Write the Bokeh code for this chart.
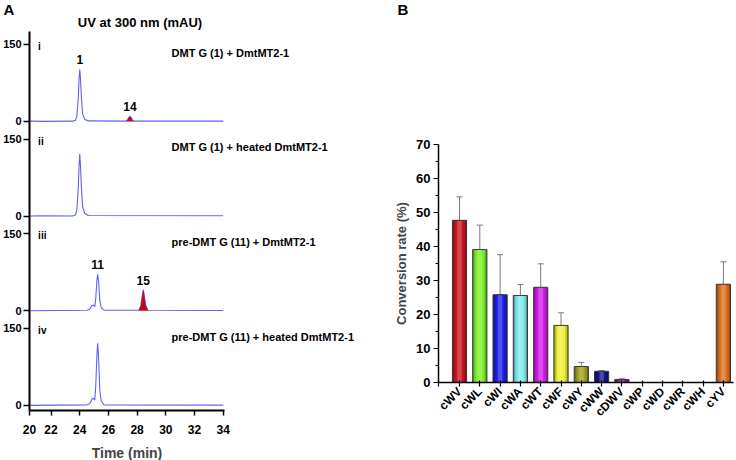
import numpy as np
from bokeh.plotting import figure
from bokeh.layouts import row
from bokeh.models import FixedTicker, Whisker, ColumnDataSource, Range1d, TeeHead
from bokeh.core.properties import value
from bokeh.embed import file_html
from bokeh.resources import INLINE

FONT = "Liberation Sans"

# ---------------- Panel A data (HPLC traces, UV 300 nm, mAU) ----------------
panel_names = ["i", "ii", "iii", "iv"]
panel_titles = ["DMT G (1) + DmtMT2-1",
                "DMT G (1) + heated DmtMT2-1",
                "pre-DMT G (11) + DmtMT2-1",
                "pre-DMT G (11) + heated DmtMT2-1"]

time_i = [20.5, 21.5, 23.5, 23.7, 23.8, 23.9, 23.95, 24.0, 24.05, 24.12, 24.2, 24.35, 24.6,
          27.2, 27.33, 27.43, 27.5, 27.57, 27.67, 27.8, 34.0]
mau_i = [0.5, 0, 0.5, 2, 10, 45, 80, 101, 85, 45, 15, 4, 1,
         0.5, 3, 8, 10, 8, 3, 0.5, 0.5]

time_ii = [20.5, 21.5, 23.5, 23.7, 23.8, 23.9, 23.95, 24.0, 24.05, 24.12, 24.2, 24.35, 24.6, 34.0]
mau_ii = [0, 0.5, 0, 2, 12, 55, 95, 121, 100, 55, 18, 5, 1, 0.5]

time_iii = [20.5, 22.5, 24.5, 24.7, 24.85, 24.95, 25.05, 25.12, 25.2, 25.25, 25.32, 25.4, 25.5, 25.7,
            28.12, 28.26, 28.36, 28.43, 28.5, 28.6, 28.75, 34.0]
mau_iii = [0, 0.5, 1, 3, 10, 11, 8, 25, 60, 71, 55, 20, 6, 1,
           1, 10, 30, 41, 30, 10, 1, 0.5]

time_iv = [20.5, 22.5, 24.5, 24.7, 24.85, 24.95, 25.05, 25.12, 25.2, 25.25, 25.32, 25.4, 25.5, 25.7, 34.0]
mau_iv = [0, 0.5, 1, 3, 12, 14, 10, 40, 100, 121, 90, 30, 8, 1, 0.5]

# product peaks (filled red): panel index, start time, end time
product_panels = [0, 2]
product_start = [27.2, 28.12]
product_end = [27.8, 28.75]

# peak labels
peak_panels = [0, 0, 2, 2]
peak_times = [24.0, 27.5, 25.25, 28.43]
peak_texts = ["1", "14", "11", "15"]

x_ticks_a = [20, 22, 24, 26, 28, 30, 32, 34]
y_tick_values_a = [0, 150]

# ---------------- Panel B data (conversion rate, %) ----------------
substrates = ["cWV", "cWL", "cWI", "cWA", "cWT", "cWF", "cWY", "cWW", "cDWV",
              "cWP", "cWD", "cWR", "cWH", "cYV"]
conversion = [47.7, 39.1, 25.8, 25.6, 28.0, 16.8, 4.7, 3.3, 0.9, 0, 0, 0, 0, 28.9]
conversion_err = [6.9, 7.2, 11.8, 3.2, 6.9, 3.7, 1.2, 0.2, 0.2, 0, 0, 0, 0, 6.6]
bar_colors = ["#C8141E", "#7CF02A", "#1E1EE6", "#7EEAEA", "#D21EE6", "#F0F032",
              "#A0A01E", "#14148C", "#8C148C", "#888888", "#888888", "#888888",
              "#888888", "#DC6E1E"]
y_ticks_b = [0, 10, 20, 30, 40, 50, 60, 70]

# ======================= Figure A =======================
STEP = 184.5            # vertical spacing between stacked traces (mAU)
offsets = [(3 - k) * STEP for k in range(4)]
traces = [(time_i, mau_i), (time_ii, mau_ii), (time_iii, mau_iii), (time_iv, mau_iv)]

PXA = 14.35   # px per min
PYA = 0.513   # px per mAU
WA, HA = 380, 460
X0A = 20.5
YAX = -10     # x-axis level (mAU), 410 px from top
pa = figure(width=WA, height=HA, output_backend="svg", toolbar_location=None,
            x_range=Range1d(X0A - 29 / PXA, X0A + (WA - 29) / PXA),
            y_range=Range1d(YAX - (HA - 410) / PYA, YAX + 410 / PYA),
            min_border_left=0, min_border_right=0, min_border_top=0, min_border_bottom=0)
pa.outline_line_color = None
pa.grid.visible = False

for k, (t, v) in enumerate(traces):
    pa.line(np.array(t), np.array(v) + offsets[k], line_color="#6060F4", line_width=1.1)

for k, s, e in zip(product_panels, product_start, product_end):
    t = np.array(traces[k][0]); v = np.array(traces[k][1])
    m = (t >= s) & (t <= e)
    pa.varea(x=t[m], y1=np.full(m.sum(), offsets[k]), y2=v[m] + offsets[k],
             fill_color="#C0081E")

pa.text(x=[21.1] * 4, y=[o + 146 for o in offsets], text=panel_names,
        text_font=value(FONT), text_font_style="bold", text_font_size="10px",
        text_baseline="middle", text_align="left", text_color="black")
pa.text(x=[30.4] * 4, y=[o + 134 for o in offsets], text=panel_titles,
        text_font=value(FONT), text_font_style="bold", text_font_size="11px",
        text_baseline="middle", text_align="left", text_color="black")

pk_y = []
for k, pt in zip(peak_panels, peak_times):
    t = np.array(traces[k][0]); v = np.array(traces[k][1])
    m = np.abs(t - pt) < 0.3
    pk_y.append(v[m].max() + offsets[k] + 10)
pa.text(x=peak_times, y=pk_y, text=peak_texts,
        text_font=value(FONT), text_font_style="bold", text_font_size="12px",
        text_baseline="bottom", text_align="center", text_color="black")

pa.text(x=[28.2], y=[YAX + (410 - 22) / PYA], text=["UV at 300 nm (mAU)"],
        text_font=value(FONT), text_font_style="bold", text_font_size="13px",
        text_baseline="middle", text_align="center", text_color="black")
pa.text(x=[X0A - 26 / PXA], y=[YAX + (410 - 9) / PYA], text=["A"],
        text_font=value(FONT), text_font_style="bold", text_font_size="15px",
        text_baseline="middle", text_align="left", text_color="black")

xa = pa.xaxis[0]
xa.fixed_location = YAX
xa.ticker = FixedTicker(ticks=[X0A] + x_ticks_a[1:])
xa.major_label_overrides = {X0A: str(x_ticks_a[0])}
xa.bounds = (X0A, 34.1)
xa.axis_line_width = 2
xa.major_tick_out = 5
xa.major_tick_in = 0
xa.major_tick_line_width = 1.5
xa.minor_tick_line_color = None
xa.major_label_standoff = 9
xa.major_label_text_font = FONT
xa.major_label_text_font_style = "bold"
xa.major_label_text_font_size = "12px"
xa.major_label_text_color = "black"
xa.axis_label = "Time (min)"
xa.axis_label_text_font = FONT
xa.axis_label_text_font_style = "bold"
xa.axis_label_text_font_size = "14px"
xa.axis_label_standoff = 8

ya = pa.yaxis[0]
yt = []
yo = {}
for o in offsets:
    for tv in y_tick_values_a:
        yt.append(o + tv)
        yo[o + tv] = str(tv)
ya.fixed_location = X0A
ya.ticker = FixedTicker(ticks=yt)
ya.major_label_overrides = yo
ya.bounds = (YAX, 728)
ya.axis_line_width = 2
ya.major_tick_out = 6
ya.major_tick_in = 0
ya.major_tick_line_width = 1.5
ya.minor_tick_line_color = None
ya.major_label_standoff = 2
ya.major_label_text_font = FONT
ya.major_label_text_font_style = "bold"
ya.major_label_text_font_size = "11px"
ya.major_label_text_color = "black"

# ======================= Figure B =======================
PXB = 20.3    # px per category
PYB = 3.4     # px per percent
WB, HB = 356, 460
XAX = -21 / PXB           # y-axis position (in category units)
pb = figure(width=WB, height=HB, output_backend="svg", toolbar_location=None,
            x_range=Range1d(-79 / PXB, -79 / PXB + WB / PXB),
            y_range=Range1d(-(HB - 382) / PYB, 382 / PYB),
            min_border_left=0, min_border_right=0, min_border_top=0, min_border_bottom=0)
pb.outline_line_color = None
pb.grid.visible = False

idx = list(range(len(substrates)))


def shade(hexc, f):
    c = np.array([int(hexc[i:i + 2], 16) for i in (1, 3, 5)], dtype=float)
    if f < 0:
        c = c * (1 + f)
    else:
        c = c + (255 - c) * f
    c = np.clip(c, 0, 255).astype(int)
    return "#%02x%02x%02x" % tuple(c)


layers = [(0.70, -0.35), (0.56, -0.12), (0.40, 0.0), (0.22, 0.22)]
for w, f in layers:
    pb.vbar(x=idx, top=conversion, width=w, bottom=0,
            fill_color=[shade(c, f) for c in bar_colors], line_color=None)
pb.vbar(x=idx, top=conversion, width=0.70, bottom=0, fill_color=None,
        line_color="#3a3a3a", line_width=1)

ex = [i for i, e in zip(idx, conversion_err) if e > 0]
ev = [c for c, e in zip(conversion, conversion_err) if e > 0]
ee = [e for e in conversion_err if e > 0]
esrc = ColumnDataSource(dict(x=ex, upper=[a + b for a, b in zip(ev, ee)],
                             lower=[a - b for a, b in zip(ev, ee)]))
pb.add_layout(Whisker(source=esrc, base="x", upper="upper", lower="lower",
                      line_color="#7a7a7a", line_width=1,
                      upper_head=TeeHead(size=6, line_color="#7a7a7a", line_width=1),
                      lower_head=TeeHead(size=6, line_color="#7a7a7a", line_width=1)))

pb.text(x=[(397 - 459) / PXB], y=[(382 - 9) / PYB], text=["B"],
        text_font=value(FONT), text_font_style="bold", text_font_size="15px",
        text_baseline="middle", text_align="left", text_color="black")

xb = pb.xaxis[0]
xb.fixed_location = 0
xb.ticker = FixedTicker(ticks=[XAX] + idx)
overrides_b = {i: s for i, s in zip(idx, substrates)}
overrides_b[XAX] = ""
xb.major_label_overrides = overrides_b
xb.major_label_orientation = np.pi / 4
xb.bounds = (XAX, 13.5)
xb.axis_line_width = 1.5
xb.major_tick_out = 4
xb.major_tick_in = 2
xb.major_tick_line_width = 1.2
xb.minor_tick_line_color = None
xb.major_label_standoff = 3
xb.major_label_text_font = FONT
xb.major_label_text_font_style = "bold"
xb.major_label_text_font_size = "12px"
xb.major_label_text_color = "black"

yb = pb.yaxis[0]
yb.fixed_location = XAX
yb.ticker = FixedTicker(ticks=y_ticks_b, minor_ticks=[v + 5 for v in y_ticks_b[:-1]])
yb.bounds = (0, 70)
yb.axis_line_width = 1.5
yb.major_tick_out = 5
yb.major_tick_in = 0
yb.minor_tick_out = 3
yb.minor_tick_in = 0
yb.major_tick_line_width = 1.2
yb.major_label_standoff = 3
yb.major_label_text_font = FONT
yb.major_label_text_font_style = "bold"
yb.major_label_text_font_size = "13px"
yb.major_label_text_color = "black"
yb.axis_label = "Conversion rate (%)"
yb.axis_label_text_font = FONT
yb.axis_label_text_font_style = "bold"
yb.axis_label_text_font_size = "13px"
yb.axis_label_standoff = 4

for p in (pa, pb):
    try:
        p.frame_align = False
    except Exception:
        pass

layout = row(pa, pb)
open("out.html", "w").write(file_html(layout, INLINE))
